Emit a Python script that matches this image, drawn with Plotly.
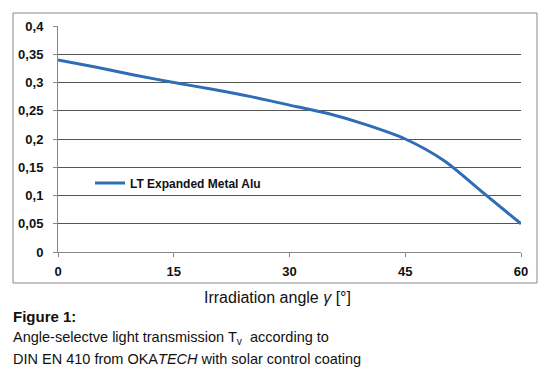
import plotly.graph_objects as go

angles = [0, 5, 10, 15, 20, 25, 30, 35, 40, 45, 50, 55, 60]
transmission = [0.34, 0.327, 0.313, 0.30, 0.288, 0.275, 0.26, 0.245, 0.225, 0.20, 0.162, 0.106, 0.05]
series_name = "LT Expanded Metal Alu"
x_ticks = [0, 15, 30, 45, 60]
y_ticks = [0, 0.05, 0.1, 0.15, 0.2, 0.25, 0.3, 0.35, 0.4]
y_tick_labels = ["0", "0,05", "0,1", "0,15", "0,2", "0,25", "0,3", "0,35", "0,4"]

W, H = 555, 382
L, R, T, B = 58, 34, 26, 130
pw, ph = W - L - R, H - T - B

def px(xp):
    return (xp - L) / pw

def py(yp):
    return (H - B - yp) / ph

fig = go.Figure()
fig.add_trace(go.Scatter(
    x=angles, y=transmission, mode="lines", name=f"<b>{series_name}</b>",
    line=dict(color="#2F6DB5", width=3, shape="spline", smoothing=0.8),
))

fig.update_layout(
    width=W, height=H,
    margin=dict(l=L, r=R, t=T, b=B, autoexpand=False),
    paper_bgcolor="white", plot_bgcolor="white",
    font=dict(family="Liberation Sans, Arial, sans-serif", color="#111"),
    showlegend=True,
    legend=dict(x=px(90), y=py(183), xanchor="left", yanchor="middle",
                bgcolor="rgba(0,0,0,0)",
                font=dict(family="Liberation Sans, Arial", size=12, color="#111"),
                itemwidth=30),
    xaxis=dict(range=[0, 60], tickvals=x_ticks, ticktext=[f"<b>{v}</b>" for v in x_ticks],
               showgrid=False, zeroline=False, showline=True, linecolor="#888", linewidth=1,
               ticks="outside", ticklen=4, tickcolor="#888", ticklabelstandoff=3,
               tickfont=dict(size=13, color="#111"), fixedrange=True),
    yaxis=dict(range=[0, 0.4], tickvals=y_ticks, ticktext=[f"<b>{t}</b>" for t in y_tick_labels],
               showgrid=True, gridcolor="#555", gridwidth=1, zeroline=False,
               showline=True, linecolor="#888", linewidth=1,
               ticks="outside", ticklen=4, tickcolor="#888", ticklabelstandoff=7,
               tickfont=dict(size=13, color="#111"), fixedrange=True),
    shapes=[dict(type="rect", xref="paper", yref="paper",
                 x0=px(13), x1=px(537), y0=py(283), y1=py(13),
                 line=dict(color="#888", width=1), fillcolor="rgba(0,0,0,0)", layer="below")],
)

cap_font = "Liberation Sans, Arial"
fig.add_annotation(xref="paper", yref="paper", x=px(277), y=py(297), xanchor="center", yanchor="middle",
                   text="Irradiation angle <i>γ</i> [°]", showarrow=False,
                   font=dict(family=cap_font, size=16, color="#111"))
fig.add_annotation(xref="paper", yref="paper", x=px(11), y=py(316), xanchor="left", yanchor="middle",
                   text="<b>Figure 1:</b>", showarrow=False, font=dict(family=cap_font, size=15, color="#111"))
fig.add_annotation(xref="paper", yref="paper", x=px(11), y=py(338), xanchor="left", yanchor="middle",
                   text="Angle-selectve light transmission T<sub>v</sub>  according to", showarrow=False,
                   font=dict(family=cap_font, size=14.5, color="#111"))
fig.add_annotation(xref="paper", yref="paper", x=px(11), y=py(359), xanchor="left", yanchor="middle",
                   text="DIN EN 410 from OKA<i>TECH</i> with solar control coating", showarrow=False,
                   font=dict(family=cap_font, size=14.5, color="#111"))

fig.write_html("out.html", config={"displayModeBar": False},
               post_script="document.body.style.margin='0';document.body.style.overflow='hidden';")
